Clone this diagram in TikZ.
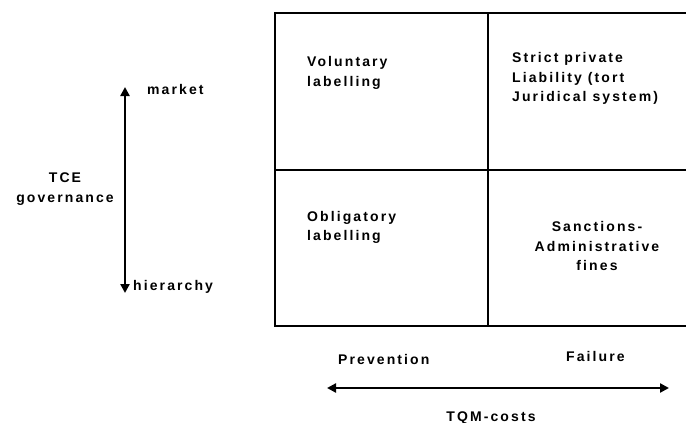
\documentclass[tikz,border=0pt]{standalone}
\usepackage{fontspec}
\newfontfamily\lblfont{Liberation Sans Bold}[LetterSpace=15]
\usetikzlibrary{arrows.meta}
\tikzset{
  lbl/.style={inner sep=0pt, font=\lblfont\fontsize{14}{19.5}\selectfont},
  grid/.style={line width=1.4pt},
  axis/.style={line width=2.8pt, {Triangle[length=9pt,width=9pt]}-{Triangle[length=9pt,width=9pt]}},
}
\begin{document}
\begin{tikzpicture}[x=1pt,y=-1pt]
\useasboundingbox (0,0) rectangle (686,423);
\clip (0,0) rectangle (686,423);

% 2x2 matrix (right edge runs off the page)
\coordinate (tl) at (275,13);
\coordinate (tr) at (700,13);
\coordinate (ml) at (275,170);
\coordinate (mr) at (700,170);
\coordinate (bl) at (275,326);
\coordinate (br) at (700,326);
\coordinate (mt) at (488,13);
\coordinate (mb) at (488,326);
\draw[grid] (tr) -- (tl) -- (bl) -- (br);
\draw[grid] (ml) -- (mr);
\draw[grid] (mt) -- (mb);

% cell texts
\node[lbl, anchor=west, align=left] (vol) at (307,73) {Voluntary\\labelling};
\node[lbl, anchor=west, align=left] (strict) at (512,78.5) {Strict private\\Liability (tort\\Juridical system)};
\node[lbl, anchor=west, align=left] (obl) at (307,227.5) {Obligatory\\labelling};
\node[lbl, anchor=center, align=center] (sanc) at (597,246) {Sanctions-\\Administrative\\fines};

% vertical governance axis
\coordinate (vtop) at (125,87);
\coordinate (vbot) at (125,293);
\draw[axis] (vbot) -- (vtop);
\node[lbl, anchor=base west] (market) at (147,94) {market};
\node[lbl, anchor=base west] (hier) at (133,290) {hierarchy};
\node[lbl, anchor=center, align=center] (tce) at (65,189) {TCE\\governance};

% horizontal cost axis
\coordinate (hl) at (327,388);
\coordinate (hr) at (669,388);
\draw[axis] (hl) -- (hr);
\node[lbl, anchor=base west] (prev) at (338,364) {Prevention};
\node[lbl, anchor=base west] (fail) at (566,361) {Failure};
\node[lbl, anchor=base] (tqm) at (491,421) {TQM-costs};
\end{tikzpicture}
\end{document}
